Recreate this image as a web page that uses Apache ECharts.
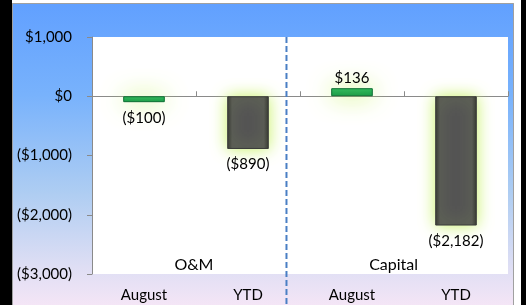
<!DOCTYPE html>
<html>
<head>
<meta charset="utf-8">
<script src="https://cdn.jsdelivr.net/npm/echarts@6/dist/echarts.min.js"></script>
<style>
  html, body { margin: 0; padding: 0; background: #fff; }
  #chart { width: 526px; height: 305px; }
</style>
</head>
<body>
<div id="chart"></div>
<script>
// data
var categories = ["August", "YTD", "August", "YTD"];
var values = [-100, -890, 136, -2182];
var barKinds = ["month", "ytd", "month", "ytd"];
var groupNames = ["O&M", "Capital"];
var groupPos = [0.98, 2.9];
var groupY = -2850;
var dividerPos = 1.87;
var yMin = -3000, yMax = 1000, yStep = 1000;

function money(v) {
  var s = "$" + Math.abs(v).toLocaleString("en-US");
  return v < 0 ? "(" + s + ")" : s;
}

var greenStyle = {
  color: {
    type: "linear", x: 0, y: 0, x2: 0, y2: 1,
    colorStops: [{ offset: 0, color: "#2cb85e" }, { offset: 1, color: "#129645" }]
  },
  borderColor: "#0c6e32",
  borderWidth: 1,
  shadowBlur: 24,
  shadowColor: "rgba(200,240,100,1)"
};
var grayStyle = {
  color: {
    type: "linear", x: 0, y: 0, x2: 1, y2: 0,
    colorStops: [
      { offset: 0, color: "#2e2e2e" },
      { offset: 0.12, color: "#545454" },
      { offset: 0.88, color: "#545454" },
      { offset: 1, color: "#2e2e2e" }
    ]
  },
  borderColor: "#3a3a3a",
  borderWidth: 1,
  shadowBlur: 16,
  shadowColor: "rgba(200,240,100,1)"
};

var barData = values.map(function(v, i) {
  return {
    value: v,
    itemStyle: barKinds[i] === "month" ? greenStyle : grayStyle,
    label: {
      position: v < 0 ? "bottom" : "top",
      distance: v < 0 ? 8 : 3
    }
  };
});

var groupData = groupNames.map(function(n, i) {
  return { name: n, value: [groupPos[i], groupY] };
});

var chart = echarts.init(document.getElementById("chart"));
var fontFam = "Lato, 'Liberation Sans', sans-serif";

var option = {
  animation: false,
  textStyle: { fontFamily: fontFam },
  graphic: [
    { type: "rect", z: -10, shape: { x: 0, y: 0, width: 12, height: 305 }, style: { fill: "#000" } },
    { type: "rect", z: -10, shape: { x: 521, y: 0, width: 5, height: 305 }, style: { fill: "#000" } },
    {
      type: "rect", z: -10,
      shape: { x: 12.5, y: 3.5, width: 501, height: 305 },
      style: {
        fill: {
          type: "linear", x: 0, y: 0, x2: 0, y2: 1,
          colorStops: [
            { offset: 0, color: "#61a0ff" },
            { offset: 0.3, color: "#78b2fc" },
            { offset: 0.62, color: "#aecdf2" },
            { offset: 0.86, color: "#dedef4" },
            { offset: 1, color: "#f6e6f6" }
          ]
        },
        stroke: "#a0a0a0",
        lineWidth: 1
      }
    }
  ],
  grid: {
    left: 92, top: 37, right: 18, bottom: 31,
    show: true, backgroundColor: "#fff", borderWidth: 0
  },
  xAxis: [
    {
      type: "category",
      data: categories,
      position: "bottom",
      axisLine: { show: false, onZero: false },
      axisTick: { show: false },
      axisLabel: { color: "#000", fontSize: 15, margin: 14, fontFamily: fontFam }
    },
    {
      type: "category",
      data: categories,
      axisLine: { onZero: true, lineStyle: { color: "#8a8a8a", width: 1 } },
      axisTick: { show: true, length: 5, lineStyle: { color: "#8a8a8a" } },
      axisLabel: { show: false }
    },
    {
      type: "value",
      min: 0, max: 4,
      show: false
    }
  ],
  yAxis: {
    type: "value",
    min: yMin, max: yMax, interval: yStep,
    axisLine: { show: true, lineStyle: { color: "#8a8a8a" } },
    axisTick: { show: true, length: 5, lineStyle: { color: "#8a8a8a" } },
    splitLine: { show: false },
    axisLabel: {
      color: "#000", fontSize: 15, margin: 20, fontFamily: fontFam,
      formatter: money
    }
  },
  series: [
    {
      type: "bar",
      xAxisIndex: 0,
      barWidth: "40%",
      data: barData,
      label: {
        show: true,
        color: "#000",
        fontSize: 15,
        fontFamily: fontFam,
        formatter: function(p) { return money(p.value); }
      },
      z: 3
    },
    {
      type: "scatter",
      xAxisIndex: 2,
      symbolSize: 1,
      itemStyle: { color: "rgba(0,0,0,0)", opacity: 1 },
      data: groupData,
      label: {
        show: true,
        position: "inside",
        color: "#000",
        opacity: 1,
        textBorderWidth: 0,
        fontSize: 16,
        fontFamily: fontFam,
        formatter: function(p) { return p.name; }
      },
      silent: true
    }
  ]
};
chart.setOption(option);

// dashed divider between the two groups, running from the plot top to the page bottom
var dx = chart.convertToPixel({ xAxisIndex: 2 }, dividerPos);
var dTop = chart.convertToPixel({ yAxisIndex: 0 }, yMax);
chart.setOption({
  graphic: option.graphic.concat([{
    type: "line", z: 10,
    shape: { x1: dx, y1: dTop, x2: dx, y2: 305 },
    style: { stroke: "#4a7fc4", lineWidth: 2, lineDash: [6, 3] }
  }])
});
</script>
</body>
</html>
